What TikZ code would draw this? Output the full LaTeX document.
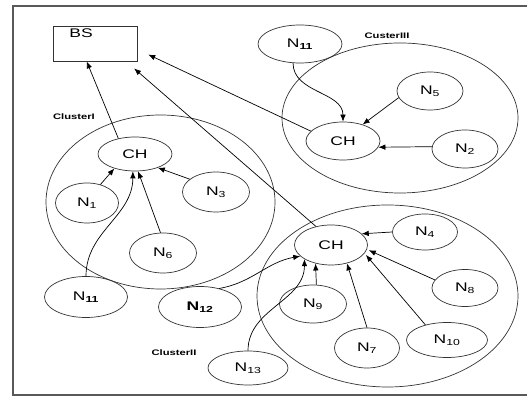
\documentclass[tikz,border=0pt]{standalone}
\usepackage{fontspec}
\setmainfont{Liberation Sans}
\newfontfamily\diagfont[FakeStretch=1.4]{Liberation Sans}
\usetikzlibrary{shapes.geometric,arrows.meta}
\begin{document}
\begin{tikzpicture}
		[	x=1pt,y=1pt,
		box/.style={rectangle,draw=black!80,line width=.8pt,minimum width=84pt,minimum height=35pt,inner sep=0pt},
		plain/.style={draw=none,fill=none,font=\diagfont\fontsize{12.5}{14}\selectfont},
		sensor/.style={ellipse,draw=black!80,line width=.7pt,inner sep=0pt,font=\diagfont\fontsize{12.5}{14}\selectfont},
		cluster/.style={ellipse,draw=black!80,line width=.7pt,inner sep=0pt},
		tag/.style={draw=none,font=\diagfont\bfseries\fontsize{8}{9}\selectfont},
		frame/.style={draw=black!65,line width=1.4pt},
		link/.style={draw=black,line width=.7pt,-{Latex[length=7pt,width=5.5pt]}}
		]
		\useasboundingbox (0,0) rectangle (527,398);
		\draw[frame] (527,392) -- (13,392) -- (13,3) -- (527,3);
		\node[cluster,minimum width=229pt,minimum height=174pt] (cl1) at (160.5,196) {};
		\node[cluster,minimum width=261pt,minimum height=182pt] (cl2) at (387.5,102) {};
		\node[cluster,minimum width=236pt,minimum height=150pt] (cl3) at (400,280) {};
		\node[tag] (t1) at (74,281) {ClusterI};
		\node[tag] (t2) at (174,45) {ClusterII};
		\node[tag] (t3) at (387,362) {CusterIII};
		\node[box] (bs) at (95,354.5) {};
		\node[plain] (bsname) at (81,365) {BS};
		\node[sensor,minimum width=74pt,minimum height=34pt] (ch1) at (135,244) {CH};
		\node[sensor,minimum width=73pt,minimum height=40pt] (ch2) at (331,153) {CH};
		\node[sensor,minimum width=74pt,minimum height=38pt] (ch3) at (343,257) {CH};
\node[sensor,minimum width=63pt,minimum height=40pt] (n1) at (87,195) {N\textsubscript{1}};
\node[sensor,minimum width=67pt,minimum height=40pt] (n3) at (216,206) {N\textsubscript{3}};
\node[sensor,minimum width=67pt,minimum height=40pt] (n6) at (163,145) {N\textsubscript{6}};
\node[sensor,minimum width=83pt,minimum height=41pt] (n11l) at (86,101) {N\textsubscript{\textbf{11}}};
\node[sensor,minimum width=83pt,minimum height=41pt] (n12) at (200,91) {\textbf{N}\textsubscript{\textbf{12}}};
\node[sensor,minimum width=80pt,minimum height=34pt] (n13) at (248,30) {N\textsubscript{13}};
\node[sensor,minimum width=65pt,minimum height=36pt] (n4) at (425,166) {N\textsubscript{4}};
\node[sensor,minimum width=66pt,minimum height=37pt] (n8) at (465,110) {N\textsubscript{8}};
\node[sensor,minimum width=67pt,minimum height=38pt] (n9) at (313,94) {N\textsubscript{9}};
\node[sensor,minimum width=65pt,minimum height=40pt] (n7) at (367,50) {N\textsubscript{7}};
\node[sensor,minimum width=81pt,minimum height=35pt] (n10) at (447,58) {N\textsubscript{10}};
\node[sensor,minimum width=66pt,minimum height=38pt] (n5) at (430,307) {N\textsubscript{5}};
\node[sensor,minimum width=66pt,minimum height=38pt] (n2) at (465,249) {N\textsubscript{2}};
\node[sensor,minimum width=84pt,minimum height=38pt] (n11t) at (300,354) {N\textsubscript{\textbf{11}}};
		\draw[link] (ch1.137) -- (bs.245);
		\draw[link,shorten >=12pt] (ch3.163) -- (bs.-8.5);
		\draw[link,shorten >=10.7pt] (ch2.129) -- (bs.-30.3);
		\draw[link] (n1.54) -- (ch1.215);
		\draw[link] (n11l.north) to[out=90,in=-90] (ch1.263);
		\draw[link] (n6.97) -- (ch1.-80);
		\draw[link] (n3.154) -- (ch1.-31);
		\draw[link] (n11t.250) to[out=-90,in=90] (ch3.north);
		\draw[link] (n5.192) -- (ch3.40);
		\draw[link] (n2.176) -- (ch3.-10);
		\draw[link] (n4.west) -- (ch2.20);
		\draw[link,shorten >=2pt] (n8.165) -- (ch2.-7);
		\draw[link,shorten >=2pt] (n10.145) -- (ch2.-14);
		\draw[link] (n7.north) -- (ch2.-49);
		\draw[link] (n9.80) -- (ch2.230);
		\draw[link] (n13.north) to[out=90,in=-90] (ch2.208);
		\draw[link] (n12.44) to[out=10,in=190] (ch2.200);
	\end{tikzpicture}
\end{document}
